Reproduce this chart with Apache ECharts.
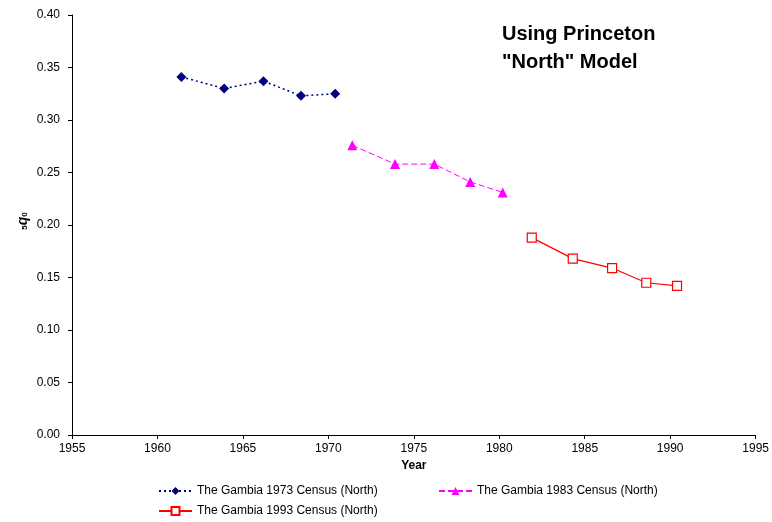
<!DOCTYPE html>
<html><head><meta charset="utf-8">
<script src="https://cdn.jsdelivr.net/npm/echarts@6/dist/echarts.min.js"></script>
<style>html,body{margin:0;padding:0;background:#fff}#c{width:772px;height:522px}</style>
</head><body><div id="c"></div>
<script>
const seriesNames = ['The Gambia 1973 Census (North)','The Gambia 1983 Census (North)','The Gambia 1993 Census (North)'];
const years1973 = [1961.4, 1963.9, 1966.2, 1968.4, 1970.4];
const q1973 = [0.341, 0.330, 0.337, 0.323, 0.325];
const years1983 = [1971.4, 1973.9, 1976.2, 1978.3, 1980.2];
const q1983 = [0.276, 0.258, 0.258, 0.241, 0.231];
const years1993 = [1981.9, 1984.3, 1986.6, 1988.6, 1990.4];
const q1993 = [0.188, 0.168, 0.159, 0.145, 0.142];
const xTicks = [1955, 1960, 1965, 1970, 1975, 1980, 1985, 1990, 1995];
const yTicks = [0, 0.05, 0.10, 0.15, 0.20, 0.25, 0.30, 0.35, 0.40];

const zip = (a, b) => a.map((v, i) => [v, b[i]]);
const font = 'Liberation Sans, Arial, sans-serif';
const chart = echarts.init(document.getElementById('c'));
const legendBase = {
  orient: 'horizontal', itemWidth: 33, itemHeight: 10, itemGap: 10, padding: 0,
  textStyle: {fontFamily: font, fontSize: 12, color: '#000'}
};
chart.setOption({
  animation: false,
  backgroundColor: '#fff',
  grid: {left: 72, right: 15, top: 15, bottom: 87},
  title: {
    text: 'Using Princeton\n"North" Model', left: 497, top: 15,
    textStyle: {fontFamily: font, fontSize: 20, fontWeight: 'bold', color: '#000', lineHeight: 28}
  },
  legend: [
    Object.assign({}, legendBase, {data: [seriesNames[0]], left: 158, top: 485}),
    Object.assign({}, legendBase, {data: [seriesNames[1]], left: 438, top: 485}),
    Object.assign({}, legendBase, {data: [seriesNames[2]], left: 158, top: 505})
  ],
  xAxis: {
    type: 'value', min: xTicks[0], max: xTicks[xTicks.length - 1], interval: 5,
    name: 'Year', nameLocation: 'middle', nameGap: 25,
    nameTextStyle: {fontFamily: font, fontSize: 12, fontWeight: 'bold', color: '#000'},
    axisLine: {lineStyle: {color: '#000', width: 1}},
    axisTick: {show: true, length: 4, lineStyle: {color: '#000'}},
    axisLabel: {fontFamily: font, fontSize: 12, color: '#000', margin: 8, formatter: v => String(v)},
    splitLine: {show: false}
  },
  yAxis: {
    type: 'value', min: yTicks[0], max: yTicks[yTicks.length - 1], interval: 0.05,
    axisLine: {show: true, lineStyle: {color: '#000', width: 1}},
    axisTick: {show: true, length: 4, lineStyle: {color: '#000'}},
    axisLabel: {fontFamily: font, fontSize: 12, color: '#000', margin: 12, formatter: v => v.toFixed(2)},
    splitLine: {show: false}
  },
  graphic: [{
    type: 'text', x: 23, y: 221, rotation: Math.PI / 2,
    style: {
      text: '{s|5}{q|q}{s|0}',
      textAlign: 'center', textVerticalAlign: 'middle',
      rich: {
        s: {fontFamily: font, fontSize: 8, fontWeight: 'bold', fill: '#000', padding: [4, 0, 0, 0]},
        q: {fontFamily: font, fontSize: 14, fontWeight: 'bold', fontStyle: 'italic', fill: '#000'}
      }
    }
  }],
  series: [
    {
      name: seriesNames[0], type: 'line', data: zip(years1973, q1973),
      symbol: 'diamond', symbolSize: 10,
      itemStyle: {color: '#000080'},
      lineStyle: {color: '#000080', width: 1.5, type: [2, 3]}
    },
    {
      name: seriesNames[1], type: 'line', data: zip(years1983, q1983),
      symbol: 'triangle', symbolSize: 10,
      itemStyle: {color: '#FF00FF'},
      lineStyle: {color: '#FF00FF', width: 1, type: [6, 3]}
    },
    {
      name: seriesNames[2], type: 'line', data: zip(years1993, q1993),
      symbol: 'rect', symbolSize: 9, showAllSymbol: true,
      itemStyle: {color: '#fff', borderColor: '#FF0000', borderWidth: 1.2},
      lineStyle: {color: '#FF0000', width: 1.2}
    }
  ]
});
</script></body></html>
